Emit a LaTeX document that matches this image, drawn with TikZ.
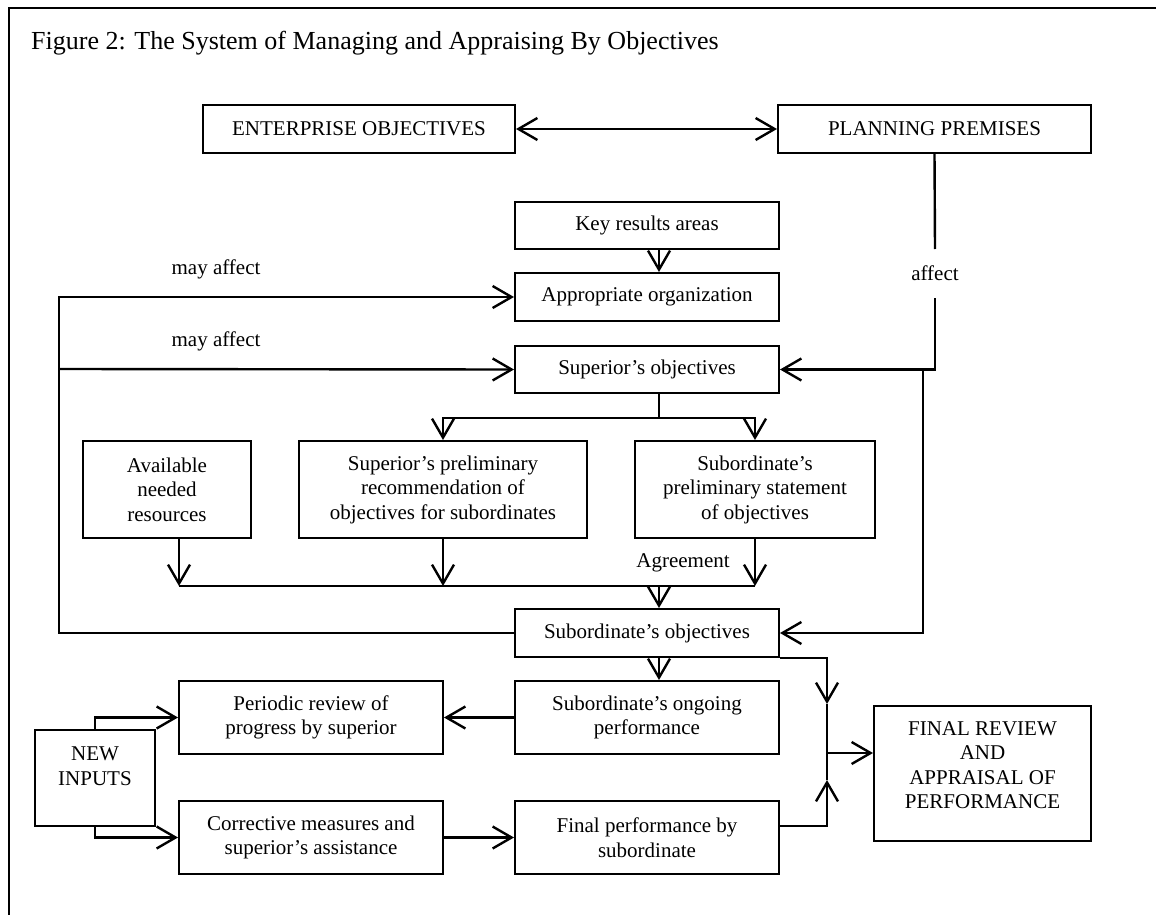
\documentclass[tikz,border=0pt]{standalone}
\usepackage{fontspec}
\setmainfont{Liberation Serif}
\usetikzlibrary{arrows.meta}
\begin{document}
\begin{tikzpicture}[x=1pt,y=-1pt,
  font=\fontsize{21}{24.5}\selectfont,
  line width=2.4pt,
  >={Straight Barb[length=19pt,width=22pt]},
  box/.style={draw, rectangle, line width=2pt, inner sep=0pt, align=center},
  sz/.style 2 args={minimum width=#1pt, minimum height=#2pt},
  lbl/.style={anchor=base, inner sep=0pt}]
\useasboundingbox (0,0) rectangle (1156,915);

% outer frame
\draw[line width=2pt] (9,916) -- (9,8) -- (1157,8);
\node[anchor=base west, inner sep=0pt, font=\fontsize{26}{30}\selectfont] (title) at (30,50)
  {Figure 2: The System of Managing and Appraising By Objectives};

% boxes
\node[box, sz={312}{48}] (ent) at (359,129) {ENTERPRISE OBJECTIVES};
\node[box, sz={313}{48}] (plan) at (934.5,129) {PLANNING PREMISES};
\node[box, sz={264}{47}] (key) at (647,225.5) {Key results areas};
\node[box, sz={264}{48}] (org) at (647,297) {Appropriate organization};
\node[box, sz={264}{47}] (sup) at (647,369.5) {Superior’s objectives};
\node[box, sz={168}{97}] (avail) at (167,489.5) {Available\\needed\\resources};
\node[box, sz={288}{97}] (pre) at (443,489.5) {Superior’s preliminary\\recommendation of\\objectives for subordinates};
\node[box, sz={240}{97}] (subpre) at (755,489.5) {Subordinate’s\\preliminary statement\\of objectives};
\node[box, sz={264}{48}] (subobj) at (647,633) {Subordinate’s objectives};
\node[box, sz={264}{73}] (ongo) at (647,717.5) {Subordinate’s ongoing\\performance};
\node[box, sz={264}{73}] (per) at (311,717.5) {Periodic review of\\progress by superior};
\node[box, sz={120}{96}] (newin) at (95,778) {};
\node[align=center, inner sep=0pt] (newinT) at (95,766) {NEW\\INPUTS};
\node[box, sz={264}{73}] (corr) at (311,837.5) {Corrective measures and\\superior’s assistance};
\node[box, sz={264}{73}] (finperf) at (647,837.5) {Final performance by\\subordinate};
\node[box, sz={217}{135}] (final) at (982.5,773.5) {};
\node[align=center, inner sep=0pt] (finalT) at (982.5,765) {FINAL REVIEW\\AND\\APPRAISAL OF\\PERFORMANCE};

% labels
\node[lbl] (aff) at (935,280) {affect};
\node[lbl] (may1) at (216,274) {may affect};
\node[lbl] (may2) at (216,346) {may affect};
\node[lbl] (agr) at (683,567) {Agreement};

% routing points
\coordinate (xa) at (659,0);
\coordinate (xb) at (179,0);
\coordinate (ga) at (935,249);
\coordinate (gb) at (935,298);
\coordinate (rj) at (923,369);
\coordinate (lt) at (59,297);
\coordinate (lm) at (59,369);
\coordinate (sj) at (659,418);
\coordinate (ag) at (659,586);
\coordinate (jt) at (827,704);
\coordinate (jb) at (827,780);
\coordinate (jm) at (827,753);
\coordinate (fo) at (779,826);

% connectors
\draw[<->] (ent.east) -- (plan.west);
\draw[->] (key.south -| xa) -- (org.north -| xa);
\draw (plan.south) -- (ga);
\draw[->] (gb) |- (sup.east);
\draw[->] (rj) |- (subobj.east);
\draw[->] (subobj.west) -| (lt) -- (org.west);
\draw[->] (lm) -- (sup.west);
\draw (sup.south -| xa) -- (sj);
\draw[->] (sj) -| (pre.north);
\draw[->] (sj) -| (subpre.north);
\draw[->] (avail.south -| xb) -- (xb |- ag);
\draw[->] (pre.south) -- (pre.south |- ag);
\draw[->] (subpre.south) -- (subpre.south |- ag);
\draw (xb |- ag) -- (subpre.south |- ag);
\draw[->] (ag) -- (subobj.north -| xa);
\draw[->] (subobj.south -| xa) -- (ongo.north -| xa);
\draw[->] (subobj.south east) -| (jt);
\draw (jt) -- (jb);
\draw[->] (fo) -| (jb);
\draw[->] (jm) -- (jm -| final.west);
\draw[->] (ongo.west) -- (per.east);
\draw[->] (corr.east) -- (finperf.west);
\draw[->] (newin.north) |- (per.west);
\draw[->] (newin.south) |- (corr.west);
\end{tikzpicture}
\end{document}
